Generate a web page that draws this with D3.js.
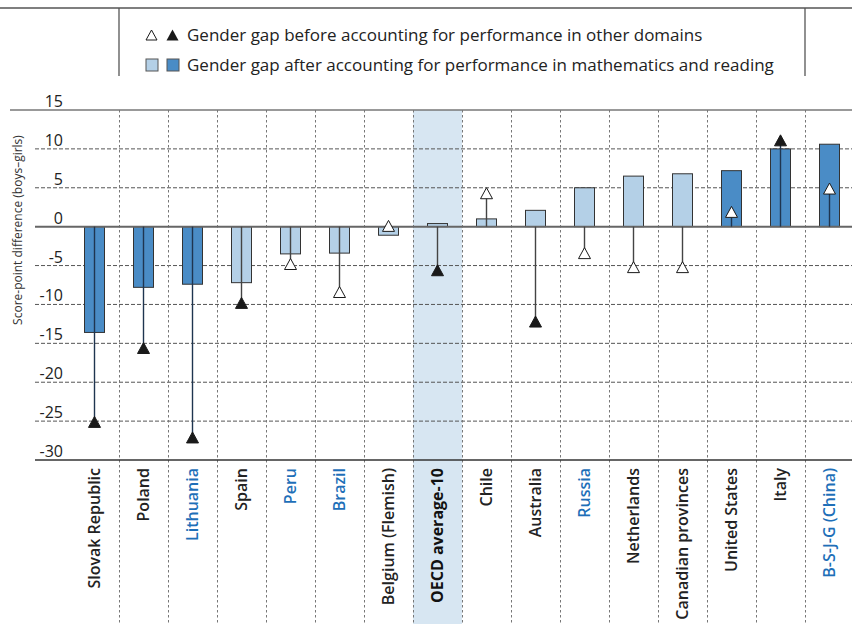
<!DOCTYPE html>
<html>
<head>
<meta charset="utf-8">
<script src="https://cdn.jsdelivr.net/npm/d3@7"></script>
<style>
  html, body { margin: 0; padding: 0; background: #fff; }
  svg { display: block; font-family: "Open Sans", sans-serif; }
</style>
</head>
<body>
<svg id="chart" width="852" height="624"></svg>
<script>
// Countries / economies, ordered by the gap after accounting for maths and reading
const categories = ["Slovak Republic", "Poland", "Lithuania", "Spain", "Peru", "Brazil",
  "Belgium (Flemish)", "OECD average-10", "Chile", "Australia", "Russia", "Netherlands",
  "Canadian provinces", "United States", "Italy", "B-S-J-G (China)"];

// Gender gap after accounting for performance in mathematics and reading (bars)
const gapAfter = [-13.6, -7.8, -7.4, -7.2, -3.5, -3.4, -1.1, 0.4, 1.0, 2.1, 5.0, 6.5, 6.8, 7.2, 10.0, 10.6];
// Gender gap before accounting for performance in other domains (triangles)
const gapBefore = [-25.1, -15.6, -27.1, -9.8, -4.8, -8.4, 0.1, -5.6, 4.3, -12.2, -3.4, -5.2, -5.2, 1.9, 11.1, 4.9];
// Statistically significant differences (dark bar / filled triangle)
const sigAfter = [true, true, true, false, false, false, false, false, false, false, false, false, false, true, true, true];
const sigBefore = [true, true, true, true, false, false, false, true, false, true, false, false, false, false, true, false];
// Partner economies, labelled in blue
const partners = ["Lithuania", "Peru", "Brazil", "Russia", "B-S-J-G (China)"];
const averageLabel = "OECD average-10";

const yTicks = [15, 10, 5, 0, -5, -10, -15, -20, -25, -30];

const C = {
  dark: "#4a8cc6",
  light: "#b4d0e7",
  shade: "#d7e6f2",
  blueText: "#1e6fb8",
  grid: "#555",
  ink: "#1a1a1a"
};

const svg = d3.select("#chart");
const W = 852, H = 624;

const x = d3.scaleBand().domain(categories).range([70, 854]).paddingInner(0).paddingOuter(0);
const y = d3.scaleLinear().domain([-30, 15]).range([460, 110]);

// Legend frame
svg.append("line").attr("x1", 0).attr("x2", W).attr("y1", 8).attr("y2", 8)
  .attr("stroke", "#555").attr("stroke-width", 1.6);
[119, 805].forEach(px => {
  svg.append("line").attr("x1", px).attr("x2", px).attr("y1", 8).attr("y2", 76)
    .attr("stroke", "#555").attr("stroke-width", 1.3);
});

// Triangle path centred on (0,0)
const tri = (w, h) => `M0,${-h / 2}L${w / 2},${h / 2}L${-w / 2},${h / 2}Z`;

const legend = svg.append("g");
legend.append("path").attr("d", tri(11, 10)).attr("transform", "translate(151.5,35)")
  .attr("fill", "#fff").attr("stroke", C.ink).attr("stroke-width", 1);
legend.append("path").attr("d", tri(12, 11)).attr("transform", "translate(172.5,35)")
  .attr("fill", C.ink);
legend.append("rect").attr("x", 146).attr("y", 59).attr("width", 12).attr("height", 12)
  .attr("fill", C.light).attr("stroke", "#555").attr("stroke-width", 1);
legend.append("rect").attr("x", 167).attr("y", 59).attr("width", 12).attr("height", 12)
  .attr("fill", C.dark).attr("stroke", "#555").attr("stroke-width", 1);
legend.append("text").attr("x", 187).attr("y", 41)
  .attr("font-size", 17).attr("fill", "#222")
  .text("Gender gap before accounting for performance in other domains");
legend.append("text").attr("x", 187).attr("y", 70.5)
  .attr("font-size", 17).attr("fill", "#222")
  .text("Gender gap after accounting for performance in mathematics and reading");

// Shaded column for the OECD average
svg.append("rect")
  .attr("x", x(averageLabel)).attr("y", y(15))
  .attr("width", x.bandwidth()).attr("height", H - y(15))
  .attr("fill", C.shade);

// Horizontal dashed gridlines
yTicks.filter(t => t !== 15 && t !== 0 && t !== -30).forEach(t => {
  svg.append("line").attr("x1", 35).attr("x2", W)
    .attr("y1", y(t)).attr("y2", y(t))
    .attr("stroke", C.grid).attr("stroke-width", 1).attr("stroke-dasharray", "4,2");
});

// Vertical dashed separators between categories
categories.forEach((c, i) => {
  if (i === 0) return;
  const px = Math.round(x(c)) + 0.5;
  svg.append("line").attr("x1", px).attr("x2", px).attr("y1", y(15)).attr("y2", H)
    .attr("stroke", "#777").attr("stroke-width", 1).attr("stroke-dasharray", "2.5,2.5");
});

// Frame lines at 15 and -30
svg.append("line").attr("x1", 10).attr("x2", W).attr("y1", y(15)).attr("y2", y(15))
  .attr("stroke", "#777").attr("stroke-width", 1.5);
svg.append("line").attr("x1", 35).attr("x2", W).attr("y1", y(-30)).attr("y2", y(-30))
  .attr("stroke", "#333").attr("stroke-width", 1.3);

// Y tick labels sit just above their gridlines
svg.append("g").selectAll("text").data(yTicks).join("text")
  .attr("x", 63).attr("y", d => y(d) - 3)
  .attr("text-anchor", "end").attr("font-size", 16).attr("fill", "#222")
  .text(d => d);

// Y axis title
svg.append("text")
  .attr("transform", "translate(22,230) rotate(-90)")
  .attr("text-anchor", "middle").attr("font-size", 12).attr("fill", "#333")
  .text("Score-point difference (boys\u2013girls)");

// Bars
const bw = 20;
svg.append("g").selectAll("rect").data(categories).join("rect")
  .attr("x", d => x(d) + x.bandwidth() / 2 - bw / 2)
  .attr("width", bw)
  .attr("y", (d, i) => y(Math.max(0, gapAfter[i])))
  .attr("height", (d, i) => Math.abs(y(gapAfter[i]) - y(0)))
  .attr("fill", (d, i) => sigAfter[i] ? C.dark : C.light)
  .attr("stroke", "#333").attr("stroke-width", 1);

// Zero line
svg.append("line").attr("x1", 35).attr("x2", W).attr("y1", y(0)).attr("y2", y(0))
  .attr("stroke", "#666").attr("stroke-width", 2);

// Connectors from zero to the triangle markers
svg.append("g").selectAll("line").data(categories).join("line")
  .attr("x1", d => x(d) + x.bandwidth() / 2).attr("x2", d => x(d) + x.bandwidth() / 2)
  .attr("y1", y(0)).attr("y2", (d, i) => y(gapBefore[i]))
  .attr("stroke", (d, i) => sigAfter[i] ? "#1f3550" : "#444").attr("stroke-width", 1.4);

// Triangle markers
svg.append("g").selectAll("path").data(categories).join("path")
  .attr("d", tri(12, 11))
  .attr("transform", (d, i) => `translate(${x(d) + x.bandwidth() / 2},${y(gapBefore[i])})`)
  .attr("fill", (d, i) => sigBefore[i] ? C.ink : "#fff")
  .attr("stroke", C.ink).attr("stroke-width", 1);

// Category labels, rotated
svg.append("g").selectAll("text").data(categories).join("text")
  .attr("transform", d => `translate(${x(d) + x.bandwidth() / 2},468) rotate(-90)`)
  .attr("text-anchor", "end").attr("dy", "0.36em")
  .attr("font-size", 16)
  .attr("font-weight", d => d === averageLabel ? 700 : 600)
  .attr("fill", d => partners.includes(d) ? C.blueText : (d === averageLabel ? "#111" : "#222"))
  .text(d => d);
</script>
</body>
</html>
